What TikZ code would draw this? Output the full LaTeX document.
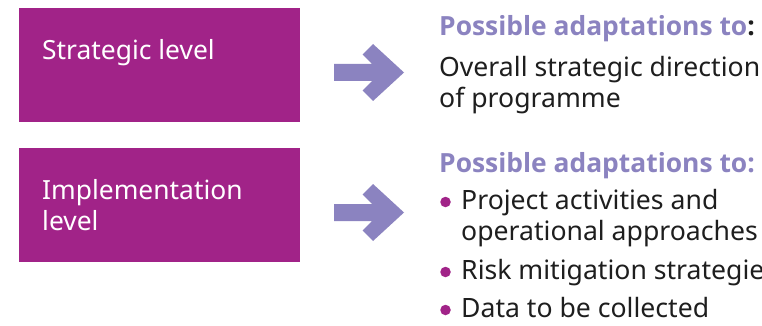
\documentclass[tikz,border=0pt]{standalone}
\usepackage{fontspec}
\setmainfont{Noto Sans}
\newfontfamily\headfont{Open Sans}
\definecolor{levelpurple}{HTML}{A12388}
\definecolor{lavender}{HTML}{8B83C0}
\definecolor{bodytext}{HTML}{1E1E1E}
\tikzset{
  levelbox/.style={fill=levelpurple, draw=none},
  boxtext/.style={anchor=base west, inner sep=0pt, text=white, align=left,
    font=\fontsize{26.4}{31}\selectfont},
  heading/.style={anchor=base west, inner sep=0pt, text=lavender,
    font=\fontsize{26.4}{31}\headfont\bfseries},
  bodyline/.style={anchor=base west, inner sep=0pt, text=bodytext, align=left,
    font=\fontsize{26.6}{31}\selectfont},
  bulletdot/.style={circle, fill=levelpurple, inner sep=0pt, minimum size=10.5pt},
  bigarrow/.style={fill=lavender, draw=none}
}
\begin{document}
\begin{tikzpicture}[x=1pt, y=-1pt]
  \clip (0,0) rectangle (762,326);
  \fill[white] (0,0) rectangle (762,326);

  % level boxes
  \fill[levelbox] (19,8) rectangle (300,122);
  \fill[levelbox] (19,148) rectangle (300,262);
  \node[boxtext] (strat) at (42,60) {Strategic level};
  \node[boxtext] (impl) at (42,199) {Implementation};
  \node[boxtext] (impl2) at (42,230) {level};

  % block arrows
  \foreach \dy in {0,140} {
    \fill[bigarrow, yshift=-\dy pt]
      (334,64) -- (372,64) -- (362.5,54.5) -- (373,44) -- (404,72.5)
      -- (373,101) -- (362.5,90.5) -- (372,81) -- (334,81) -- cycle;
  }

  % strategic adaptations
  \node[heading] (h1) at (439,36) {Possible adaptations to\textcolor{bodytext}{:}};
  \node[bodyline] (s1) at (439,77) {Overall strategic direction};
  \node[bodyline] (s2) at (439,107) {of programme};

  % implementation adaptations
  \node[heading] (h2) at (439,172) {Possible adaptations to:};
  \node[bodyline] (i1) at (461,209) {Project activities and};
  \node[bodyline] (i1b) at (461,240) {operational approaches};
  \node[bodyline] (i2) at (461,279) {Risk mitigation strategies};
  \node[bodyline] (i3) at (461,317) {Data to be collected};
  \node[bulletdot] (b1) at (445.5,202) {};
  \node[bulletdot] (b2) at (445.5,272) {};
  \node[bulletdot] (b3) at (445.5,310) {};
\end{tikzpicture}
\end{document}
